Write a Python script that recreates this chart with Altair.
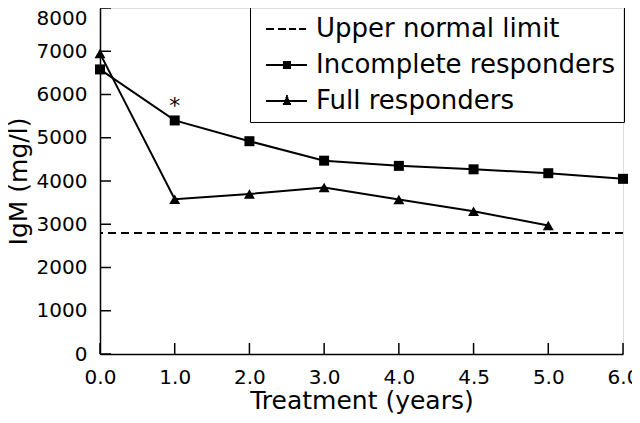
import altair as alt
import pandas as pd

# ---- data ----
years = ["0.0", "1.0", "2.0", "3.0", "4.0", "4.5", "5.0", "6.0"]
incomplete = [6580, 5400, 4920, 4470, 4350, 4270, 4180, 4050]
full_years = ["0.0", "1.0", "2.0", "3.0", "4.0", "4.5", "5.0"]
full = [6950, 3580, 3700, 3850, 3570, 3300, 2970]
upper_limit = [2800]
y_ticks = [0, 1000, 2000, 3000, 4000, 5000, 6000, 7000, 8000]
series_names = ["Upper normal limit", "Incomplete responders", "Full responders"]
star_year = ["1.0"]
star_value = [5400]

rows = [{"year": y, "igm": v, "series": series_names[1]} for y, v in zip(years, incomplete)]
rows += [{"year": y, "igm": v, "series": series_names[2]} for y, v in zip(full_years, full)]
df = pd.DataFrame(rows)
df_limit = pd.DataFrame({"igm": upper_limit})
df_xt = pd.DataFrame({"year": years})
df_yt = pd.DataFrame({"igm": y_ticks})
df_star = pd.DataFrame({"year": star_year, "igm": star_value, "txt": ["*"]})

W, H = 523, 346
FONT = "DejaVu Sans"
TICK = 11

X = alt.X(
    "year:N",
    sort=years,
    scale=alt.Scale(type="point", domain=years, padding=0),
    axis=alt.Axis(
        title="Treatment (years)", ticks=False, labelPadding=13, labelAngle=0,
        labelFont=FONT, labelFontSize=20, labelColor="black",
        titleFont=FONT, titleFontSize=25, titleFontWeight="normal", titleColor="black",
        titlePadding=1, domainColor="black", domainWidth=1.5, grid=False,
    ),
)
Y = alt.Y(
    "igm:Q",
    scale=alt.Scale(domain=[0, 8000], nice=False, zero=True),
    axis=alt.Axis(
        title="IgM (mg/l)", values=y_ticks, ticks=False, labelPadding=13,
        labelFont=FONT, labelFontSize=20, labelColor="black",
        labelBaseline={"condition": {"test": "datum.value == 8000", "value": "top"}, "value": "middle"},
        titleFont=FONT, titleFontSize=25, titleFontWeight="normal", titleColor="black",
        titlePadding=5, domainColor="black", domainWidth=1.5, grid=False, format="d",
    ),
)

limit = alt.Chart(df_limit).mark_rule(color="black", strokeWidth=2, strokeDash=[8, 5]).encode(y=Y)

lines = alt.Chart(df).mark_line(color="black", strokeWidth=2).encode(
    x=X, y=Y, detail="series:N"
)
pts_inc = alt.Chart(df).transform_filter(
    alt.datum.series == series_names[1]
).mark_point(shape="square", filled=True, color="black", size=100, opacity=1).encode(x=X, y=Y)
pts_full = alt.Chart(df).transform_filter(
    alt.datum.series == series_names[2]
).mark_point(shape="triangle-up", filled=True, color="black", size=120, opacity=1).encode(x=X, y=Y)

xticks = alt.Chart(df_xt).mark_rule(color="black", strokeWidth=1.5).encode(
    x=X, y=alt.value(H), y2=alt.value(H - TICK)
)
yticks = alt.Chart(df_yt).mark_rule(color="black", strokeWidth=1.5).encode(
    y=Y, x=alt.value(0), x2=alt.value(TICK)
)

star = alt.Chart(df_star).mark_text(
    font=FONT, fontSize=22, color="black", baseline="middle", dy=-14
).encode(x=X, y=Y, text="txt:N")

# legend symbols drawn only with strokes (line + hatched marker), units of 13 px
p_dash = "M-0.46,0H0.15M0.46,0H1.08M1.31,0H1.85M2.08,0H2.62"
p_sq = ("M-0.46,0H2.69"
        "M0.84,-0.23H1.46M0.84,-0.077H1.46M0.84,0.077H1.46M0.84,0.23H1.46")
p_tri = ("M-0.46,0H2.69"
         "M1.08,-0.38H1.22M1.04,-0.23H1.26M0.99,-0.077H1.31"
         "M0.92,0.077H1.38M0.84,0.23H1.46")

legend_layer = alt.Chart(df).transform_filter("datum.igm < 0").mark_point(
    filled=False, color="black", opacity=1, strokeWidth=2
).encode(
    shape=alt.Shape(
        "series:N",
        scale=alt.Scale(domain=series_names, range=[p_dash, p_sq, p_tri]),
        legend=alt.Legend(
            title=None, orient="none", legendX=150, legendY=-1,
            strokeColor="black", padding=8, rowPadding=9,
            symbolSize=676, symbolStrokeWidth=2,
            symbolStrokeColor="black", symbolOpacity=1,
            labelFont=FONT, labelFontSize=26, labelColor="black", labelOffset=30,
            labelLimit=400,
        ),
    )
)

chart = alt.layer(
    limit, lines, pts_inc, pts_full, xticks, yticks, star, legend_layer
).properties(
    width=W, height=H,
    autosize=alt.AutoSizeParams(type="none"),
    padding={"left": 92, "top": 0, "right": 9, "bottom": 61},
).configure_view(stroke=None).configure_legend(strokeWidth=1.5).configure(background="white")

chart.save("out.html", embed_options={"renderer": "svg", "actions": False})
